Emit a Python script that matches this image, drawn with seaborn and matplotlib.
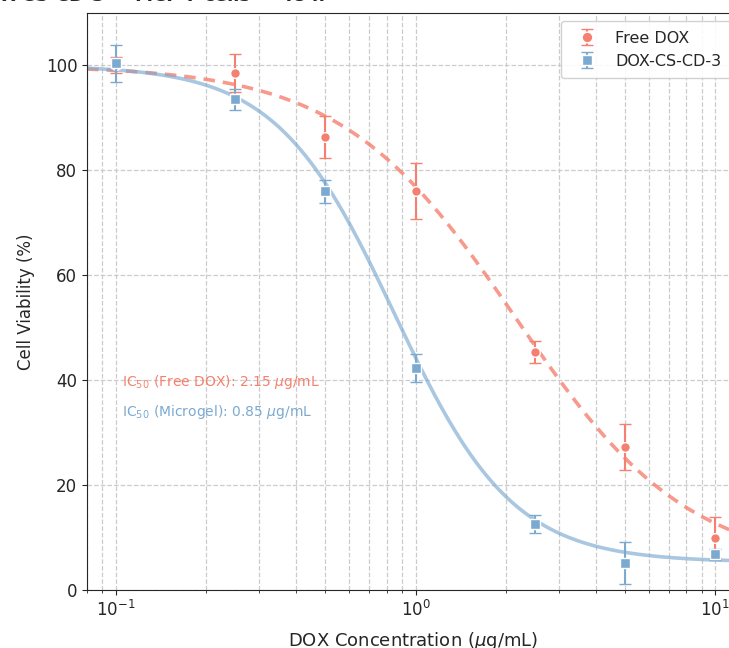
import numpy as np
import pandas as pd
import matplotlib
matplotlib.use("Agg")
import matplotlib.pyplot as plt
import seaborn as sns

# measured cell viability (mean +/- sd) at each DOX concentration
conc = [0.1, 0.25, 0.5, 1.0, 2.5, 5.0, 10.0]
free_dox = [100.1, 98.5, 86.4, 76.1, 45.3, 27.3, 10.0]
free_dox_err = [1.5, 3.6, 4.0, 5.3, 2.1, 4.4, 3.9]
microgel = [100.4, 93.6, 76.0, 42.3, 12.6, 5.2, 6.8]
microgel_err = [3.5, 2.0, 2.2, 2.7, 1.7, 4.0, 1.1]

# 4-parameter logistic fits: top, bottom, IC50, hill slope
free_fit = [100.0, 4.0, 2.15, 1.5]
gel_fit = [100.0, 5.3, 0.85, 2.2]

red = "#F5806F"
blue = "#7CA9D0"

sns.set_style("ticks")
plt.rcParams['font.family'] = ['DejaVu Sans']
plt.rcParams['mathtext.fontset'] = 'dejavusans'

fig = plt.figure(figsize=(7.29, 6.48), dpi=100)
ax = fig.add_axes([87 / 729, 58 / 648, 652 / 729, 577 / 648])


def logistic(x, p):
    top, bottom, ic50, hill = p
    return bottom + (top - bottom) / (1 + (x / ic50) ** hill)


x_fit = np.logspace(np.log10(0.08), np.log10(12), 400)
fit_df = pd.DataFrame({'x': x_fit,
                       'free': logistic(x_fit, free_fit),
                       'gel': logistic(x_fit, gel_fit)})

sns.lineplot(data=fit_df, x='x', y='free', ax=ax, color=red, lw=2.6,
             linestyle=(0, (3.2, 2.2)), alpha=0.8, zorder=2)
sns.lineplot(data=fit_df, x='x', y='gel', ax=ax, color=blue, lw=2.6,
             alpha=0.65, zorder=2)

ax.errorbar(conc, free_dox, yerr=free_dox_err, fmt='o', color=red, ms=7,
            mec='white', mew=1, capsize=4.5, elinewidth=1.5, capthick=1.5,
            label='Free DOX', zorder=3)
ax.errorbar(conc, microgel, yerr=microgel_err, fmt='s', color=blue, ms=6.5,
            mec='white', mew=1, capsize=4.5, elinewidth=1.5, capthick=1.5,
            label='DOX-CS-CD-3', zorder=4)

ax.set_xscale('log')
ax.set_xlim(0.08, 12)
ax.set_ylim(0, 110)
ax.set_yticks([0, 20, 40, 60, 80, 100])
ax.grid(True, which='both', axis='x', linestyle='--', color='#cccccc', lw=0.9)
ax.grid(True, which='major', axis='y', linestyle='--', color='#cccccc', lw=0.9)
ax.tick_params(labelsize=12)

ax.set_xlabel(r"DOX Concentration ($\mu$g/mL)", fontsize=13, labelpad=7)
ax.set_ylabel("Cell Viability (%)", fontsize=12, labelpad=8)

ax.text(0.054, 0.36, r"IC$_{50}$ (Free DOX): 2.15 $\mu$g/mL", color=red,
        fontsize=10, transform=ax.transAxes, va='center')
ax.text(0.054, 0.308, r"IC$_{50}$ (Microgel): 0.85 $\mu$g/mL", color=blue,
        fontsize=10, transform=ax.transAxes, va='center')

ax.legend(loc='upper right', fontsize=11.5, frameon=True, framealpha=0.9,
          borderpad=0.6, markerscale=1.1)

fig.text(325 / 729, 1 - 1 / 648, "Cytotoxicity of DOX-CS-CD-3 \u2014 MCF-7 cells \u2014 48 h",
         ha='right', va='baseline', fontsize=13, fontweight='bold')

fig.savefig("out.png", dpi=100)
